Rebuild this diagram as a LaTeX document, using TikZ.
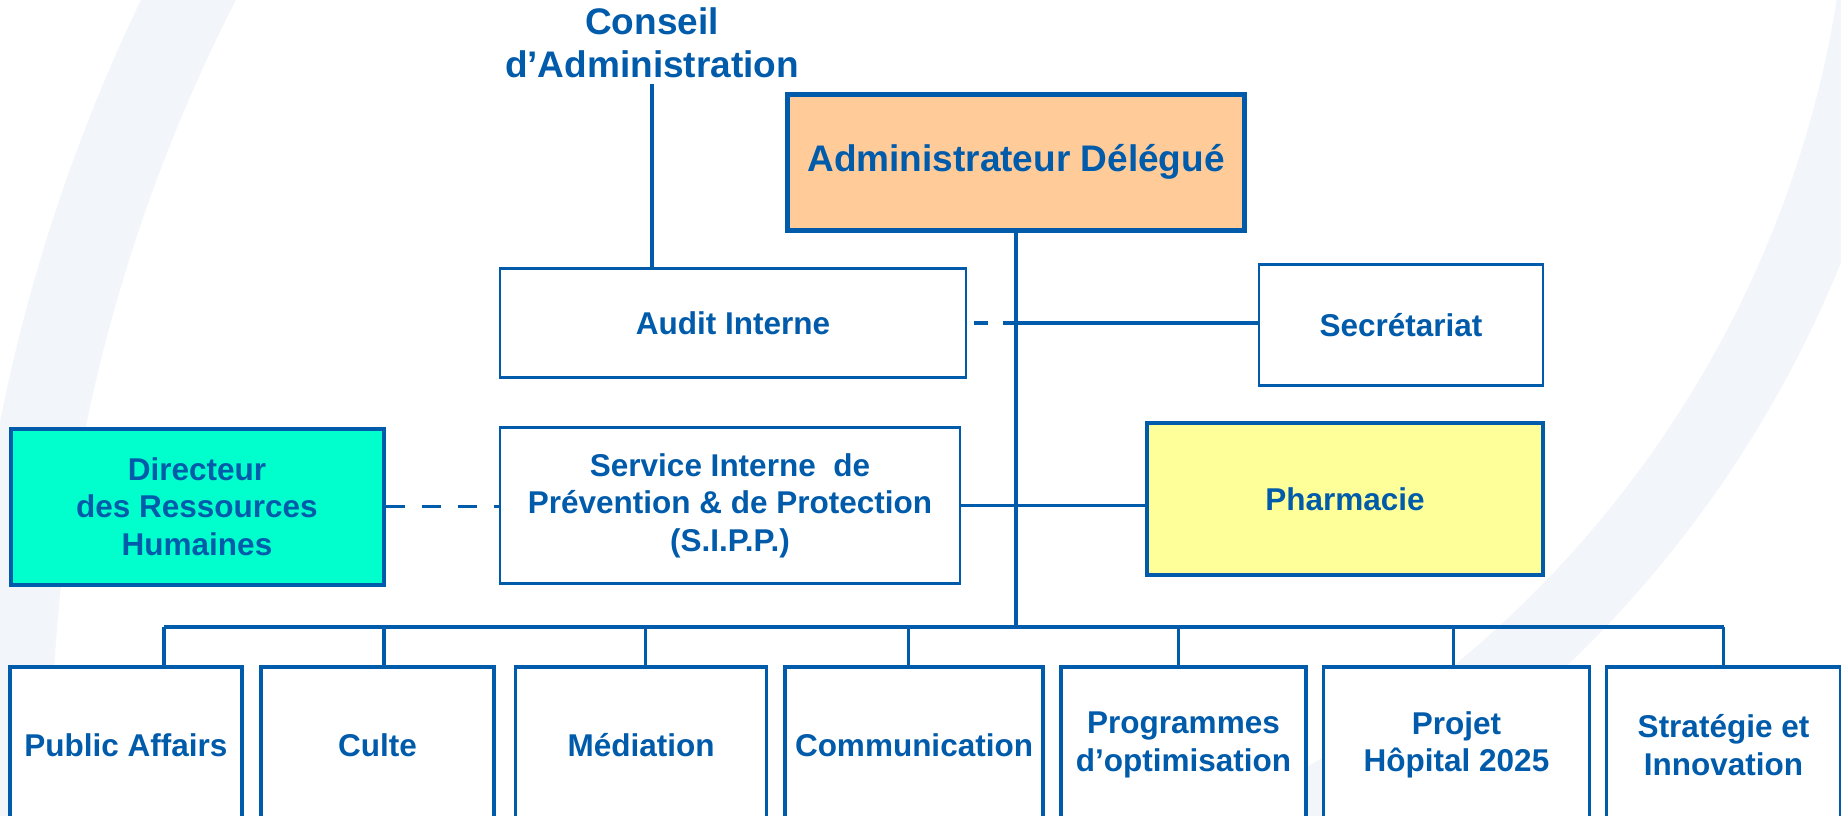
\documentclass[tikz,border=0pt]{standalone}
\usepackage{fontspec}
\setmainfont{Liberation Sans}
\usepackage{tikz}
\definecolor{orgblue}{HTML}{005BAA}
\definecolor{peach}{HTML}{FFCC99}
\definecolor{aqua}{HTML}{00FFCC}
\definecolor{paleyellow}{HTML}{FFFF99}
\definecolor{bgarc}{HTML}{F2F5FA}

\begin{document}
\begin{tikzpicture}[x=0.5pt, y=-0.5pt,
    box/.style={draw=orgblue, fill=white, rectangle, line width=1.3pt, inner sep=0pt, align=center, text=orgblue, font=\bfseries\fontsize{15.75pt}{18.8pt}\selectfont},
    unitbox/.style={box, line width=1.8pt, minimum height=78pt},
    link/.style={draw=orgblue, line width=1.7pt},
    dashlink/.style={link, dash pattern=on 9.5pt off 8.5pt},
    band/.style={draw=bgarc, line width=42.5pt}]
    \useasboundingbox (0,0) rectangle (1841,815);
    \clip (0,0) rectangle (1841,815);
    \fill[white] (0,0) rectangle (1841,815);

    \draw[band] (1727,764) ++(212:1718) arc[start angle=212, end angle=172, radius=1718];
    \draw[band, line width=37.5pt] (768,-172) ++(0:1120) arc[start angle=0, end angle=70, radius=1120];

    \node (conseil) [align=center, text=orgblue, inner sep=2.5pt, font=\bfseries\fontsize{18.5pt}{21.7pt}\selectfont] at (652,43) {Conseil\\d’Administration};
    \node (ad) [box, fill=peach, line width=2.5pt, minimum width=228.5pt, minimum height=68pt, font=\bfseries\fontsize{18.5pt}{21.7pt}\selectfont] at (1016,162) {Administrateur Délégué};
    \node (audit) [box, minimum width=233pt, minimum height=54.5pt] at (733,323) {Audit Interne};
    \node (secr) [box, minimum width=142pt, minimum height=60.5pt] at (1401,325) {Secrétariat};
    \node (drh) [box, fill=aqua, line width=2pt, minimum width=186.5pt, minimum height=78pt] at (197,506.5) {Directeur\\des Ressources\\Humaines};
    \node (sipp) [box, minimum width=230pt, minimum height=78pt] at (730,505.5) {Service Interne\ \ de\\Prévention \& de Protection\\(S.I.P.P.)};
    \node (pharma) [box, fill=paleyellow, line width=2pt, minimum width=198pt, minimum height=76pt] at (1345,499) {Pharmacie};

    \node (pa) [unitbox, minimum width=116pt] at (126,745) {Public Affairs};
    \node (culte) [unitbox, minimum width=116.5pt] at (377.5,745) {Culte};
    \node (media) [unitbox, minimum width=125.5pt] at (641,745) {Médiation};
    \node (comm) [unitbox, minimum width=129pt] at (914,745) {Communication};
    \node (prog) [unitbox, minimum width=122.5pt] at (1183.5,745) {Programmes\\d’optimisation};
    \node (projet) [unitbox, minimum width=133pt] at (1456.5,745) {Projet\\Hôpital 2025};
    \node (strat) [unitbox, minimum width=117pt] at (1723.5,745) {Stratégie et\\Innovation};

    \draw[link] (conseil.south) -- (conseil.south |- audit.north);
    \draw[link] (ad.south) -- (ad.south |- 0,627);
    \draw[link, dash pattern=on 7pt off 7.5pt, dash phase=11pt] (audit.east) -- (audit.east -| ad.south);
    \draw[link] (audit.east -| ad.south) -- (audit.east -| secr.west);
    \draw[dashlink] (drh.east) -- (drh.east -| sipp.west);
    \draw[link] (sipp.east) -- (sipp.east -| pharma.west);

    \draw[link, line width=2pt] (164,627) -- (1723.5,627);
    \foreach \n/\dx in {pa/164, culte/384, media/645.5, comm/908.5, prog/1178.5, projet/1453.5, strat/1723.5}
        \draw[link] (\dx,627) -- (\dx,627 |- \n.north);
\end{tikzpicture}
\end{document}
